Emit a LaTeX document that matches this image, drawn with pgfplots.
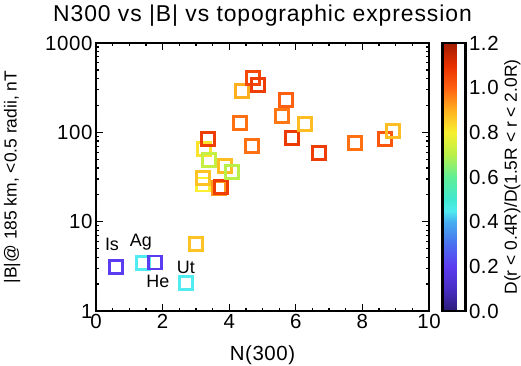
\documentclass[border=0pt]{standalone}
\usepackage{fontspec}
\setmainfont{Liberation Sans}
\usepackage{pgfplots}
\pgfplotsset{compat=1.18}
\pgfplotsset{/pgf/number format/assume math mode=true}
\newcommand{\tickfont}{\fontsize{20.5}{22}\selectfont\addfontfeature{LetterSpace=3}}
\pgfplotsset{
  colormap={idlrain}{
    rgb255(0)=(44,28,120);
    rgb255(1)=(72,46,196);
    rgb255(2)=(92,60,240);
    rgb255(3)=(74,112,240);
    rgb255(4)=(70,175,240);
    rgb255(4.5)=(80,236,240);
    rgb255(5)=(64,232,208);
    rgb255(6)=(96,238,150);
    rgb255(7)=(184,240,72);
    rgb255(8)=(248,240,48);
    rgb255(9)=(255,176,32);
    rgb255(10)=(255,96,16);
    rgb255(11)=(232,48,0);
    rgb255(12)=(160,28,0)
  }
}
\begin{document}
\begin{tikzpicture}
\useasboundingbox (-96bp,-55bp) rectangle (425bp,311bp);
\begin{axis}[
  at={(0,0)}, anchor=south west,
  scale only axis, width=333bp, height=268bp,
  xmin=0, xmax=10, ymin=1, ymax=1000, ymode=log,
  xtick={0,2,4,6,8,10}, minor x tick num=3,
  ytick={1,10,100,1000}, yticklabels={1,10,100,1000},
  tick align=inside, major tick length=7bp, minor tick length=3.5bp,
  axis line style={line width=2.2bp},
  every tick/.style={black, line width=1.3bp},
  tick label style={font=\tickfont},
  title={N300 vs |B| vs topographic expression},
  title style={font={\fontsize{23}{25}\selectfont\addfontfeature{LetterSpace=4}}, at={(axis description cs:0.5,1.0586)}, anchor=base},
  xlabel={N(300)},
  xlabel style={font=\tickfont, at={(axis description cs:0.5,-0.183)}, anchor=base},
  ylabel={|B|@ 185 km, <0.5 radii, nT},
  ylabel style={font=\fontsize{17.5}{19}\selectfont, at={(axis description cs:-0.252,0.5)}, anchor=center},
  colormap name=idlrain,
  point meta min=0, point meta max=1.2,
  colorbar,
  colorbar style={
    at={(parent axis.north east)}, anchor=north west, xshift=5bp,
    width=23bp,
    ytick={0,0.2,0.4,0.6,0.8,1.0,1.2},
    yticklabel style={/pgf/number format/.cd, fixed, fixed zerofill, precision=1, /tikz/.cd, font=\tickfont},
    major tick length=0pt,
    axis line style={line width=2.6bp},
    ylabel={D(r < 0.4R)/D(1.5R < r < 2.0R)},
    ylabel style={font=\fontsize{17.5}{19}\selectfont, at={(axis description cs:3.04,0.5)}, anchor=center},
  },
]
\addplot[scatter, only marks, mark=square, mark size=6.5bp,
  mark options={line width=2.8bp},
  scatter/use mapped color={draw=mapped color, fill=none},
  point meta=explicit]
  table[meta=c] {
x y c
0.60 3.10 0.20
1.41 3.45 0.45
1.77 3.50 0.20
2.70 2.06 0.45
3.00 5.60 0.87
3.21 26 0.80
3.21 31 0.87
3.24 65 0.82
3.39 49 0.72
3.36 84 1.07
3.69 24 0.93
3.75 24.5 1.07
3.87 42 0.88
4.08 36 0.70
4.32 127 0.98
4.38 290 0.90
4.68 70 0.98
4.71 406 1.05
4.86 340 1.07
5.59 153 0.97
5.70 231 1.00
5.88 87 1.08
6.28 124 0.88
6.70 59 1.07
7.78 76 0.98
8.68 84 1.02
8.92 104 0.88
};
\node[font=\fontsize{18}{20}\selectfont] at (axis cs:0.48,5.5) {Is};
\node[font=\fontsize{18}{20}\selectfont] at (axis cs:1.35,5.9) {Ag};
\node[font=\fontsize{18}{20}\selectfont] at (axis cs:1.86,2.17) {He};
\node[font=\fontsize{18}{20}\selectfont] at (axis cs:2.70,3.10) {Ut};
\end{axis}
\end{tikzpicture}
\end{document}
